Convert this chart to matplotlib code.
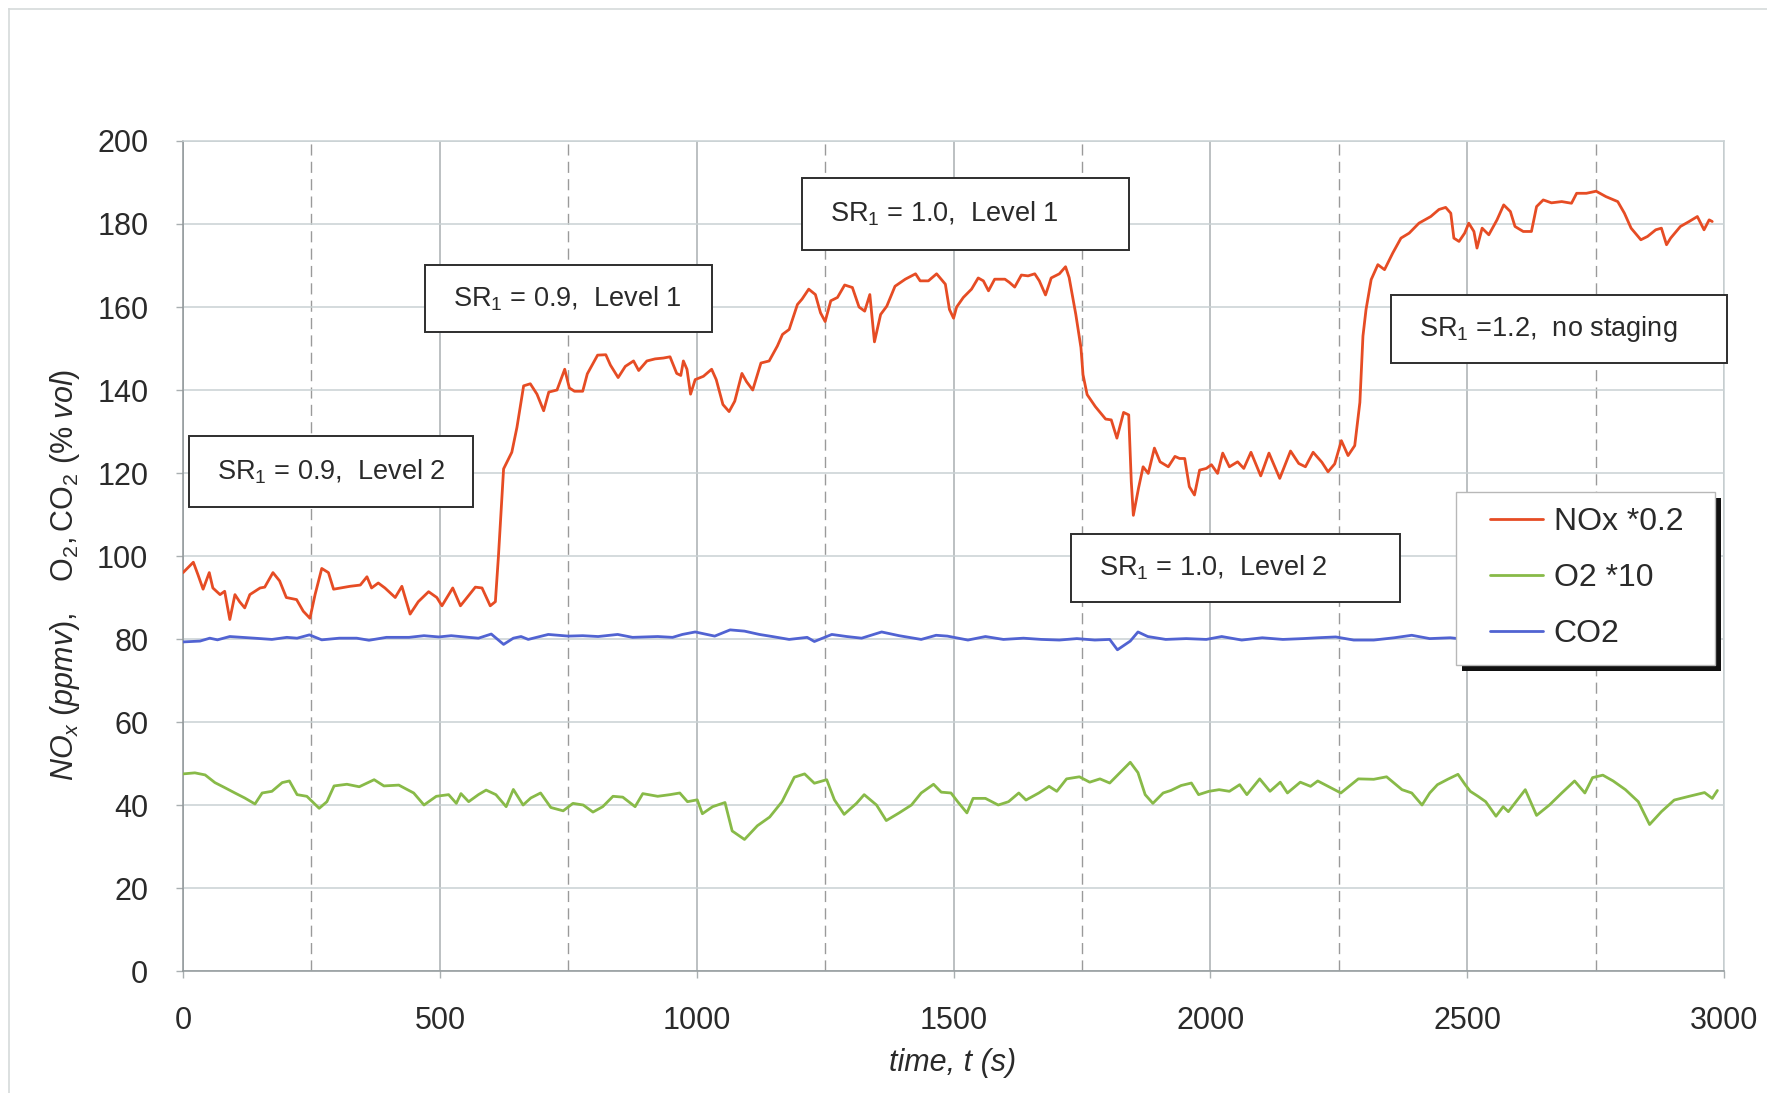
import matplotlib.pyplot as plt
from matplotlib.patches import Rectangle
from matplotlib.lines import Line2D
import numpy as np

plt.rcParams['font.family'] = ['Liberation Sans', 'DejaVu Sans']
plt.rcParams['mathtext.fontset'] = 'custom'
plt.rcParams['mathtext.rm'] = 'Liberation Sans'
plt.rcParams['mathtext.it'] = 'Liberation Sans:italic'

# ---- data ----
t_nox = [0, 20, 29, 39, 51, 58, 72, 81, 91, 101, 110, 120, 130, 150, 159, 175, 188, 201, 221, 234,
         247, 257, 270, 283, 293, 325, 345, 358, 367, 380, 393, 413, 426, 442, 458, 478, 494, 504, 525, 540,
         553, 569, 582, 598, 608, 614, 624, 640, 650, 663, 676, 689, 702, 712, 728, 743, 752, 762, 778, 787,
         807, 823, 832, 847, 861, 877, 887, 903, 919, 935, 948, 961, 969, 974, 981, 988, 997, 1013, 1029, 1038,
         1051, 1063, 1074, 1088, 1097, 1109, 1125, 1141, 1157, 1167, 1180, 1196, 1205, 1218, 1231, 1241, 1250, 1261, 1274, 1288,
         1303, 1316, 1327, 1337, 1346, 1358, 1370, 1386, 1406, 1426, 1435, 1451, 1467, 1484, 1492, 1500, 1506, 1519, 1535, 1548,
         1558, 1568, 1580, 1600, 1609, 1619, 1632, 1645, 1658, 1667, 1679, 1690, 1706, 1718, 1725, 1738, 1748, 1752, 1760, 1776,
         1796, 1807, 1818, 1831, 1841, 1846, 1850, 1860, 1869, 1879, 1891, 1902, 1918, 1931, 1940, 1950, 1959, 1969, 1979, 1992,
         2002, 2014, 2024, 2037, 2053, 2065, 2079, 2098, 2114, 2135, 2156, 2172, 2185, 2200, 2217, 2229, 2242, 2255, 2268, 2281,
         2291, 2297, 2303, 2313, 2326, 2339, 2355, 2371, 2387, 2406, 2429, 2445, 2458, 2468, 2474, 2484, 2495, 2503, 2513, 2519,
         2529, 2542, 2558, 2571, 2584, 2593, 2609, 2625, 2635, 2648, 2664, 2684, 2703, 2713, 2732, 2751, 2770, 2793, 2806, 2819,
         2838, 2851, 2867, 2878, 2888, 2896, 2915, 2932, 2948, 2961, 2971, 2977]
nox = [96, 98.5, 95.5, 92, 96, 92.3, 90.7, 91.5, 84.7, 90.7, 89, 87.5, 90.7, 92.3, 92.5, 96, 94, 90, 89.5, 86.7,
       85, 90.7, 97, 96, 92, 92.7, 93, 95, 92.3, 93.5, 92.3, 90, 92.7, 86, 89, 91.4, 90, 88, 92.3, 88,
       90, 92.5, 92.3, 88, 89, 100, 121, 125, 131, 141, 141.5, 139, 135, 139.5, 140, 145, 140.5, 139.7, 139.7, 143.9,
       148.4, 148.5, 146, 143, 145.7, 147, 144.7, 147, 147.5, 147.7, 148, 144, 143.5, 147, 145, 139, 142.5, 143.3, 145, 142.5,
       136.5, 134.8, 137.3, 144, 142, 140, 146.5, 147, 150.6, 153.4, 154.6, 160.6, 161.9, 164.3, 163, 158.6, 156.5, 161.5, 162.3, 165.3,
       164.7, 160, 159, 163, 151.6, 158.2, 160.2, 165, 166.7, 168, 166.3, 166.3, 168, 165.5, 159.4, 157.3, 160, 162.3, 164.3, 167,
       166.3, 163.9, 166.7, 166.7, 165.9, 164.8, 167.7, 167.5, 168, 166.3, 162.9, 167, 168, 169.7, 167.1, 158.2, 150.2, 143.7, 138.9, 136,
       133, 132.8, 128.4, 134.6, 134, 117.9, 109.8, 116.3, 121.5, 119.9, 126, 122.7, 121.5, 124, 123.5, 123.5, 116.7, 114.7, 120.7, 121.1,
       122, 119.9, 124.8, 121.5, 122.7, 121.1, 125, 119.3, 124.8, 118.7, 125.3, 122.3, 121.5, 125, 122.6, 120.3, 122.2, 127.8, 124.2, 126.6,
       137, 153, 159.4, 166.6, 170.2, 169, 173, 176.6, 177.8, 180.2, 181.8, 183.5, 184, 182.6, 176.6, 175.8, 177.8, 180.2, 178.2, 174.2,
       179, 177.4, 181, 184.6, 183, 179.4, 178.2, 178.2, 184.2, 185.8, 185.1, 185.4, 185, 187.4, 187.4, 187.9, 186.6, 185.4, 182.6, 179,
       176.2, 177, 178.6, 179, 175, 176.6, 179.4, 180.6, 181.8, 178.6, 181, 180.6]

t_o2 = [0, 23, 43, 62, 81, 101, 120, 140, 154, 173, 193, 207, 222, 241, 265, 280, 294, 319, 343, 372,
        391, 420, 449, 469, 493, 517, 532, 541, 556, 575, 590, 609, 629, 643, 662, 677, 696, 716, 740, 759,
        779, 798, 817, 837, 856, 880, 895, 924, 948, 967, 982, 1001, 1011, 1031, 1055, 1069, 1093, 1118, 1142, 1166,
        1190, 1210, 1229, 1253, 1268, 1287, 1311, 1326, 1350, 1369, 1394, 1418, 1437, 1461, 1476, 1495, 1508, 1526, 1538, 1562,
        1587, 1607, 1627, 1641, 1666, 1686, 1701, 1720, 1745, 1765, 1785, 1804, 1824, 1844, 1859, 1873, 1888, 1908, 1923, 1943,
        1963, 1977, 1997, 2017, 2037, 2057, 2071, 2096, 2116, 2136, 2150, 2175, 2195, 2209, 2229, 2254, 2274, 2288, 2318, 2343,
        2373, 2392, 2412, 2427, 2442, 2462, 2482, 2496, 2506, 2521, 2536, 2556, 2570, 2580, 2595, 2613, 2635, 2660, 2684, 2709,
        2729, 2744, 2764, 2784, 2808, 2833, 2855, 2878, 2903, 2932, 2962, 2977, 2987]
o2 = [47.5, 47.75, 47.25, 45.4, 44.2, 42.9, 41.7, 40.25, 42.9, 43.3, 45.4, 45.8, 42.5, 42.1, 39.2, 40.8, 44.6, 45, 44.4, 46.1,
      44.6, 44.8, 42.9, 40, 42.1, 42.5, 40.4, 42.75, 40.8, 42.5, 43.6, 42.5, 39.6, 43.75, 40, 41.7, 42.9, 39.4, 38.6, 40.4,
      40, 38.3, 39.6, 42.1, 41.9, 39.6, 42.75, 42.1, 42.5, 42.9, 40.8, 41.25, 37.9, 39.6, 40.6, 33.75, 31.7, 35, 37.1, 40.8,
      46.7, 47.5, 45.25, 46.1, 41.25, 37.75, 40.4, 42.5, 40, 36.25, 38.1, 40, 42.9, 45, 43.1, 42.9, 40.8, 38.1, 41.6, 41.6,
      40, 40.8, 42.9, 41.2, 42.9, 44.5, 43.3, 46.3, 46.8, 45.5, 46.3, 45.3, 47.8, 50.3, 47.8, 42.5, 40.4, 42.9, 43.5, 44.7,
      45.3, 42.5, 43.3, 43.7, 43.3, 44.9, 42.5, 46.3, 43.3, 45.5, 42.9, 45.5, 44.5, 45.8, 44.5, 42.9, 44.9, 46.3, 46.2, 46.8,
      43.7, 42.9, 40, 42.9, 44.9, 46.2, 47.4, 44.9, 43.3, 42.1, 40.8, 37.3, 39.6, 38.4, 40.8, 43.7, 37.5, 40, 42.9, 45.8,
      42.9, 46.6, 47.2, 45.8, 43.7, 40.8, 35.3, 38.4, 41.2, 42.1, 43, 41.6, 43.5]

t_co2 = [0, 33, 52, 67, 91, 115, 139, 173, 202, 222, 246, 270, 304, 338, 362, 396, 440, 469, 498, 522,
         556, 575, 600, 624, 643, 658, 672, 711, 750, 778, 808, 846, 875, 924, 953, 972, 997, 1035, 1065, 1093,
         1122, 1147, 1180, 1215, 1229, 1263, 1292, 1321, 1360, 1394, 1437, 1466, 1488, 1528, 1562, 1597, 1636, 1671, 1706, 1740,
         1775, 1804, 1819, 1844, 1859, 1878, 1913, 1953, 1992, 2022, 2061, 2101, 2141, 2180, 2209, 2244, 2279, 2318, 2358, 2392,
         2427, 2467, 2490]
co2 = [79.3, 79.5, 80.2, 79.8, 80.6, 80.4, 80.2, 79.9, 80.4, 80.2, 81, 79.8, 80.2, 80.2, 79.7, 80.4, 80.4, 80.8, 80.5, 80.8,
       80.4, 80.2, 81.2, 78.7, 80.2, 80.6, 79.9, 81.1, 80.7, 80.8, 80.6, 81.1, 80.4, 80.6, 80.4, 81.1, 81.7, 80.7, 82.2, 81.9,
       81.1, 80.6, 79.9, 80.4, 79.4, 81.1, 80.6, 80.2, 81.7, 80.8, 79.9, 80.9, 80.7, 79.75, 80.6, 79.9, 80.2, 79.9, 79.75, 80.1,
       79.75, 79.9, 77.4, 79.5, 81.7, 80.6, 79.9, 80.1, 79.9, 80.6, 79.75, 80.3, 79.9, 80.1, 80.3, 80.5, 79.75, 79.75, 80.3, 80.9,
       80.1, 80.3, 80.0]

series_labels = ['NOx *0.2', 'O2 *10', 'CO2']
box_texts = ['SR$_1$ = 0.9,  Level 2', 'SR$_1$ = 0.9,  Level 1', 'SR$_1$ = 1.0,  Level 1',
             'SR$_1$ =1.2,  no staging', 'SR$_1$ = 1.0,  Level 2']
# box extents in data units (t_left, t_right, y_bottom, y_top)
box_pos = [(12, 565, 111.8, 128.9), (471, 1030, 154.0, 170.1), (1205, 1842, 173.7, 191.1),
           (2352, 3006, 146.5, 162.9), (1729, 2369, 88.9, 105.3)]

c_red = '#E64C24'
c_green = '#88BA48'
c_blue = '#5163D2'

fig = plt.figure(figsize=(17.67, 10.93), dpi=100)
ax = fig.add_axes([0.1036, 0.1116, 0.8721, 0.7594])

kw = dict(lw=2.0, zorder=3, solid_joinstyle='round', solid_capstyle='round')
l1, = ax.plot(t_nox, nox, color=c_red, label=series_labels[0], **kw)
l2, = ax.plot(t_o2, o2, color=c_green, label=series_labels[1], **kw)
l3, = ax.plot(t_co2, co2, color=c_blue, label=series_labels[2], **kw)

ax.set_xlim(0, 3000)
ax.set_ylim(0, 200)
ax.set_xticks(np.arange(0, 3001, 500))
ax.set_xticks(np.arange(250, 3000, 500), minor=True)
ax.set_yticks(np.arange(0, 201, 20))
ax.set_axisbelow(True)
ax.grid(which='major', axis='y', color='#C9D1D3', lw=1.1)
ax.grid(which='major', axis='x', color='#A9AFB1', lw=1.1)
ax.grid(which='minor', axis='x', color='#9A9A9A', lw=1.0, ls=(0, (8, 4.5)))

ax.tick_params(which='major', labelsize=22, colors='#2A2A2A', length=5, pad=20, width=1)
ax.tick_params(which='major', color='#A9AFB1')
ax.tick_params(which='minor', length=0)
for s in ['left', 'bottom']:
    ax.spines[s].set_color('#8F9698')
    ax.spines[s].set_linewidth(1.1)
for s in ['top', 'right']:
    ax.spines[s].set_color('#C9D1D3')
    ax.spines[s].set_linewidth(1.1)

# condition boxes
for txt, (x0, x1, y0, y1) in zip(box_texts, box_pos):
    ax.add_patch(Rectangle((x0, y0), x1 - x0, y1 - y0, facecolor='white',
                           edgecolor='#2E2E2E', lw=1.4, zorder=4, clip_on=False))
    ax.text(x0 + 54, (y0 + y1) / 2, txt, fontsize=19.5, color='#2A2A2A',
            ha='left', va='center', zorder=5)

# legend with hard black shadow
lx, ly, lw_, lh = 0.826, 0.369, 0.168, 0.208
ax.add_patch(Rectangle((lx + 0.0042, ly - 0.0075), lw_, lh, transform=ax.transAxes,
                       facecolor='#111111', edgecolor='none', zorder=5))
ax.add_patch(Rectangle((lx, ly), lw_, lh, transform=ax.transAxes,
                       facecolor='white', edgecolor='#B8B8B8', lw=1, zorder=5.5))
leg = ax.legend(handles=[l1, l2, l3], loc='center left', bbox_to_anchor=(0.848, 0.4735),
                frameon=False, fontsize=23, handlelength=1.65, handletextpad=0.35,
                labelspacing=0.82, borderpad=0, borderaxespad=0)
leg.set_zorder(6)
for t in leg.get_texts():
    t.set_color('#2A2A2A')

fig.text(0.539, 0.0275, 'time, t (s)', fontsize=22, style='italic',
         color='#2A2A2A', ha='center', va='center')
fig.text(0.0368, 0.474, r'$\mathit{NO_x\ (ppmv),}\ \ \ \mathrm{O_2,CO_2}\ \mathit{(\%\ vol)}$',
         fontsize=22, color='#2A2A2A', rotation=90, ha='center', va='center')

# faint scan frame
fig.add_artist(Line2D([0.0051, 0.0051], [0, 0.992], transform=fig.transFigure, color='#D5DADA', lw=1.2))
fig.add_artist(Line2D([0.0051, 1], [0.992, 0.992], transform=fig.transFigure, color='#D5DADA', lw=1.2))

fig.savefig('out.png', dpi=100)
